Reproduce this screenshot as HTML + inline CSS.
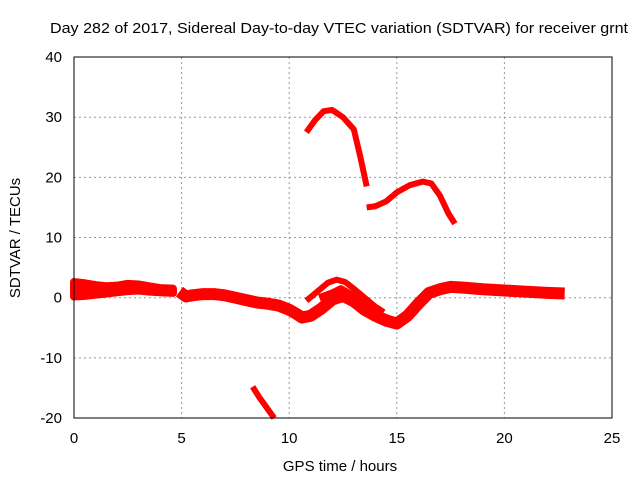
<!DOCTYPE html>
<html><head><meta charset="utf-8"><style>
body{margin:0;background:#fff}
svg{display:block;font-family:"Liberation Sans",sans-serif;font-size:15px}
</style></head><body>
<svg id="c" width="640" height="480">
<text x="50" y="33" textLength="578" lengthAdjust="spacingAndGlyphs">Day 282 of 2017, Sidereal Day-to-day VTEC variation (SDTVAR) for receiver grnt</text>
<text x="340" y="471" text-anchor="middle">GPS time / hours</text>
<text transform="translate(20,238) rotate(-90)" text-anchor="middle">SDTVAR / TECUs</text>
<g id="grid"></g><g id="series"></g>
<rect x="74" y="57" width="538" height="361" fill="none" stroke="#000"/>
<g id="ticks"></g>
</svg>
<script>
const xTicks=[0,5,10,15,20,25];
const yTicks=[-20,-10,0,10,20,30,40];
const s1h=[0,0.5,1,1.5,2,2.5,3,3.5,4,4.6];
const s1up=[2.6,2.4,2.1,1.9,2.0,2.3,2.2,1.9,1.6,1.5];
const s1lo=[0.2,0.3,0.5,0.7,0.9,1.1,1.2,1.0,0.9,0.8];
const s2h=[4.9,5.2,5.5,6,6.5,7,7.5,8,8.5,9,9.5,10,10.3,10.6,11,11.5,12,12.5,13,13.5,14,14.5,15,15.5,16,16.5,17,17.5,18,19,20,21,22,22.8];
const s2v=[1.0,0.2,0.4,0.6,0.6,0.4,0,-0.4,-0.8,-1.0,-1.3,-2.0,-2.6,-3.3,-3.0,-1.8,-0.3,0.3,-0.6,-2.0,-3.0,-3.8,-4.3,-3.0,-1.0,0.8,1.4,1.8,1.7,1.4,1.2,1.0,0.8,0.7];
const s3h=[10.8,11.3,11.8,12.2,12.6,13,13.5,14,14.4];
const s3v=[-0.5,1.0,2.5,3.0,2.6,1.5,0,-1.5,-2.4];
const s4h=[11.4,12,12.4,13,13.7,14.3,15];
const s4v=[0.0,0.8,1.5,0.3,-1.8,-3.0,-4.0];
const s5h=[10.8,11.2,11.6,12,12.5,13,13.3,13.6];
const s5v=[27.5,29.5,31,31.2,30,28,23.5,18.5];
const s6h=[13.6,14,14.5,15,15.6,16.2,16.6,17,17.4,17.7];
const s6v=[15,15.2,16,17.5,18.7,19.3,19,17,14,12.3];
const s7h=[8.3,8.6,9,9.3];
const s7v=[-14.8,-16.5,-18.5,-20];
const X=h=>74+h*538/25, Y=v=>297.7-v*361/60;
const NS="http://www.w3.org/2000/svg";
const grid=document.getElementById('grid'),ticks=document.getElementById('ticks'),ser=document.getElementById('series');
function mk(tag,attrs,parent){const e=document.createElementNS(NS,tag);for(const k in attrs)e.setAttribute(k,attrs[k]);parent.appendChild(e);return e;}
xTicks.forEach(t=>{
 if(t>0&&t<25){const g=mk('line',{x1:X(t),x2:X(t),y1:57,y2:418,stroke:'#999','stroke-dasharray':'2,3'},grid);
 
 }
 const l=mk('text',{x:X(t),y:443,'text-anchor':'middle'},ticks);l.textContent=t;
 
 
});
yTicks.forEach(t=>{
 if(t>-20&&t<40){const g=mk('line',{x1:74,x2:612,y1:Y(t),y2:Y(t),stroke:'#999','stroke-dasharray':'2,3'},grid);
 
 }
 const l=mk('text',{x:62,y:Y(t)+5,'text-anchor':'end'},ticks);l.textContent=t;
 
 
});
function line(hs,vs,w,name){
 const p=mk('polyline',{points:hs.map((h,i)=>X(h)+','+Y(vs[i])).join(' '),fill:'none',stroke:'#f00','stroke-width':w,'stroke-linejoin':'round','stroke-linecap':'butt'},ser);
 
 
}
const pts=s1h.map((h,i)=>X(h)+','+Y(s1up[i])).concat(s1h.slice().reverse().map((h,i)=>X(h)+','+Y(s1lo[s1lo.length-1-i])));
const band=mk('polygon',{points:pts.join(' '),fill:'#f00',stroke:'#f00','stroke-width':8,'stroke-linejoin':'round'},ser);


line(s2h,s2v,12,'series-main');
line(s3h,s3v,6,'series-loop-upper');
line(s4h,s4v,7,'series-loop-middle');
line(s5h,s5v,6,'series-high-arc');
line(s6h,s6v,6,'series-mid-arc');
line(s7h,s7v,6,'series-low-segment');
</script>
</body></html>
